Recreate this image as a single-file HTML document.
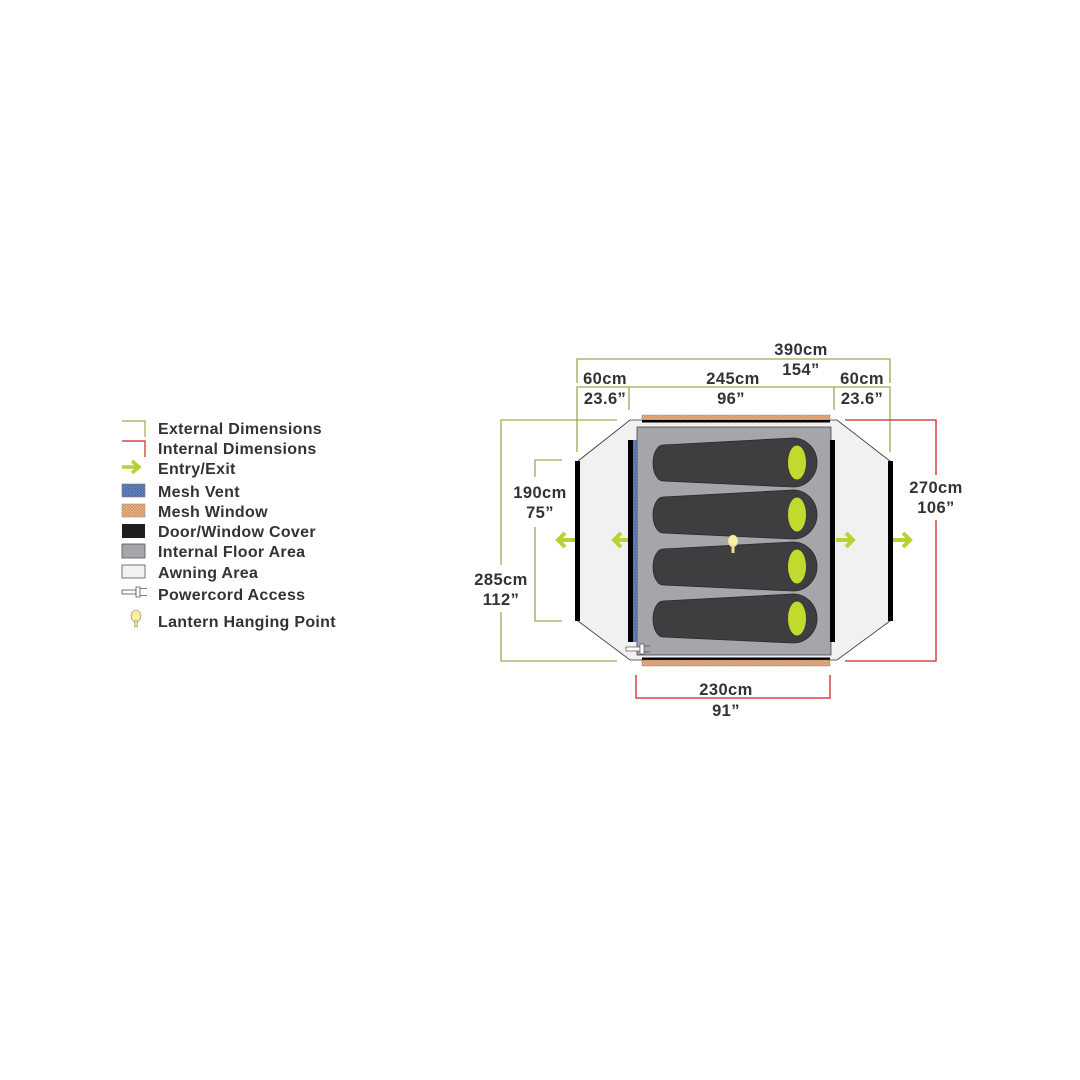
<!DOCTYPE html>
<html><head><meta charset="utf-8"><style>
html,body{margin:0;padding:0;background:#fff;}
svg{display:block;}
text{font-family:"Liberation Sans",sans-serif;font-weight:bold;fill:#333;}
</style></head><body>
<svg width="1080" height="1080" viewBox="0 0 1080 1080" xmlns="http://www.w3.org/2000/svg">
<defs>
<pattern id="blue" width="3" height="3" patternUnits="userSpaceOnUse"><rect width="3" height="3" fill="#6b8fc4"/><path d="M0 0L3 3M3 0L0 3" stroke="#3d5f9a" stroke-width="0.6"/></pattern>
<pattern id="org" width="3" height="3" patternUnits="userSpaceOnUse"><rect width="3" height="3" fill="#f0b98a"/><path d="M0 0L3 3M3 0L0 3" stroke="#c98a5a" stroke-width="0.6"/></pattern>
<g id="bag"><path d="M663 7 L793 0 A24 24.5 0 0 1 793 49 L663 43 A10 18 0 0 1 663 7 Z" fill="#3e3e40" stroke="#2a2a2a" stroke-width="0.8"/><ellipse cx="797" cy="24.5" rx="9" ry="17" fill="#c2d92e"/></g>
</defs>

<!-- Legend -->
<g stroke-width="1.2" fill="none">
<path d="M122 421 H145 V437" stroke="#9aab4f"/>
<path d="M122 441 H145 V457" stroke="#d2232a"/>
</g>
<path d="M122 467 H138 M132 461 L139 467 L132 473" stroke="#b5d334" stroke-width="3.5" fill="none"/>
<rect x="122" y="484" width="23" height="13" fill="url(#blue)" stroke="#777" stroke-width="0.6"/>
<rect x="122" y="504" width="23" height="13" fill="url(#org)" stroke="#999" stroke-width="0.6"/>
<rect x="122" y="524" width="23" height="14" fill="#1e1e1e"/>
<rect x="122" y="544" width="23" height="14" fill="#a5a6a9" stroke="#555" stroke-width="0.8"/>
<rect x="122" y="565" width="23" height="13" fill="#f1f1f1" stroke="#555" stroke-width="0.8"/>
<g fill="#fff" stroke="#555" stroke-width="0.8"><rect x="122" y="590" width="14" height="4"/><path d="M136 587 h4 v10 h-4z M140 588.5h7 M140 595.5h7" fill="#fff"/></g>
<g><ellipse cx="136" cy="616" rx="5" ry="6" fill="#f7f0a0" stroke="#888" stroke-width="0.6"/><rect x="134.5" y="621" width="3" height="6" fill="#e8e08a" stroke="#888" stroke-width="0.5"/></g>
<g font-size="16" letter-spacing="0.3">
<text x="158" y="434">External Dimensions</text>
<text x="158" y="454">Internal Dimensions</text>
<text x="158" y="474">Entry/Exit</text>
<text x="158" y="497">Mesh Vent</text>
<text x="158" y="517">Mesh Window</text>
<text x="158" y="537">Door/Window Cover</text>
<text x="158" y="557">Internal Floor Area</text>
<text x="158" y="578">Awning Area</text>
<text x="158" y="600">Powercord Access</text>
<text x="158" y="627">Lantern Hanging Point</text>
</g>

<!-- Dimension lines -->
<g fill="none" stroke="#9aab4f" stroke-width="1.3">
<path d="M577 383 V359 H890 V383"/>
<path d="M577 452 V387 H890 V452 M629 387 V410 M834 387 V410"/>
<path d="M617 420 H501 V565 M501 612 V661 H617"/>
<path d="M562 460 H535 V477 M535 527 V621 H562"/>
</g>
<g fill="none" stroke="#d2232a" stroke-width="1.3">
<path d="M845 420 H936 V475 M936 520 V661 H845"/>
<path d="M636 675 V698 H830 V675"/>
</g>

<!-- Tent -->
<polygon points="630,420 837,420 890,461 890,621 837,660 630,660 578,621 578,461" fill="#f1f1f1" stroke="#333" stroke-width="0.8"/>
<rect x="637" y="427" width="194" height="228" fill="#a5a6a9" stroke="#444" stroke-width="0.8"/>
<rect x="575" y="461" width="5" height="160" fill="#000"/>
<rect x="888" y="461" width="5" height="160" fill="#000"/>
<rect x="628" y="440" width="5" height="202" fill="#000"/>
<rect x="633" y="440" width="4" height="202" fill="url(#blue)"/>
<rect x="830" y="440" width="5" height="202" fill="#000"/>
<rect x="642" y="415" width="188" height="5" fill="url(#org)" stroke="#777" stroke-width="0.4"/>
<rect x="642" y="420" width="188" height="2.5" fill="#000"/>
<rect x="642" y="657.5" width="188" height="2.5" fill="#000"/>
<rect x="642" y="660" width="188" height="6" fill="url(#org)" stroke="#777" stroke-width="0.4"/>

<use href="#bag" y="438"/>
<use href="#bag" y="490"/>
<use href="#bag" y="542"/>
<use href="#bag" y="594"/>

<!-- lantern -->
<ellipse cx="733" cy="541" rx="5" ry="6" fill="#f7f0a0" stroke="#bbb" stroke-width="0.5"/>
<rect x="731.5" y="545" width="3" height="8" fill="#e8e08a"/>

<!-- powercord -->
<g fill="#fff" stroke="#555" stroke-width="0.7"><rect x="626" y="647" width="14" height="4"/><path d="M640 644 h4 v10 h-4z M644 646h6 M644 652h6"/></g>

<!-- arrows -->
<g fill="none" stroke="#b5d334" stroke-width="4">
<path d="M575 540 H558 M565 533 L558 540 L565 547"/>
<path d="M628 540 H614 M621 533 L614 540 L621 547"/>
<path d="M836 540 H853 M846 533 L853 540 L846 547"/>
<path d="M893 540 H910 M903 533 L910 540 L903 547"/>
</g>

<!-- labels -->
<g font-size="16.5" text-anchor="middle" letter-spacing="0.4">
<text x="801" y="355">390cm</text>
<text x="801" y="375">154”</text>
<text x="605" y="384">60cm</text>
<text x="605" y="404">23.6”</text>
<text x="733" y="384">245cm</text>
<text x="731" y="404">96”</text>
<text x="862" y="384">60cm</text>
<text x="862" y="404">23.6”</text>
<text x="540" y="498">190cm</text>
<text x="540" y="518">75”</text>
<text x="501" y="585">285cm</text>
<text x="501" y="605">112”</text>
<text x="936" y="493">270cm</text>
<text x="936" y="513">106”</text>
<text x="726" y="695">230cm</text>
<text x="726" y="716">91”</text>
</g>
</svg>
</body></html>
